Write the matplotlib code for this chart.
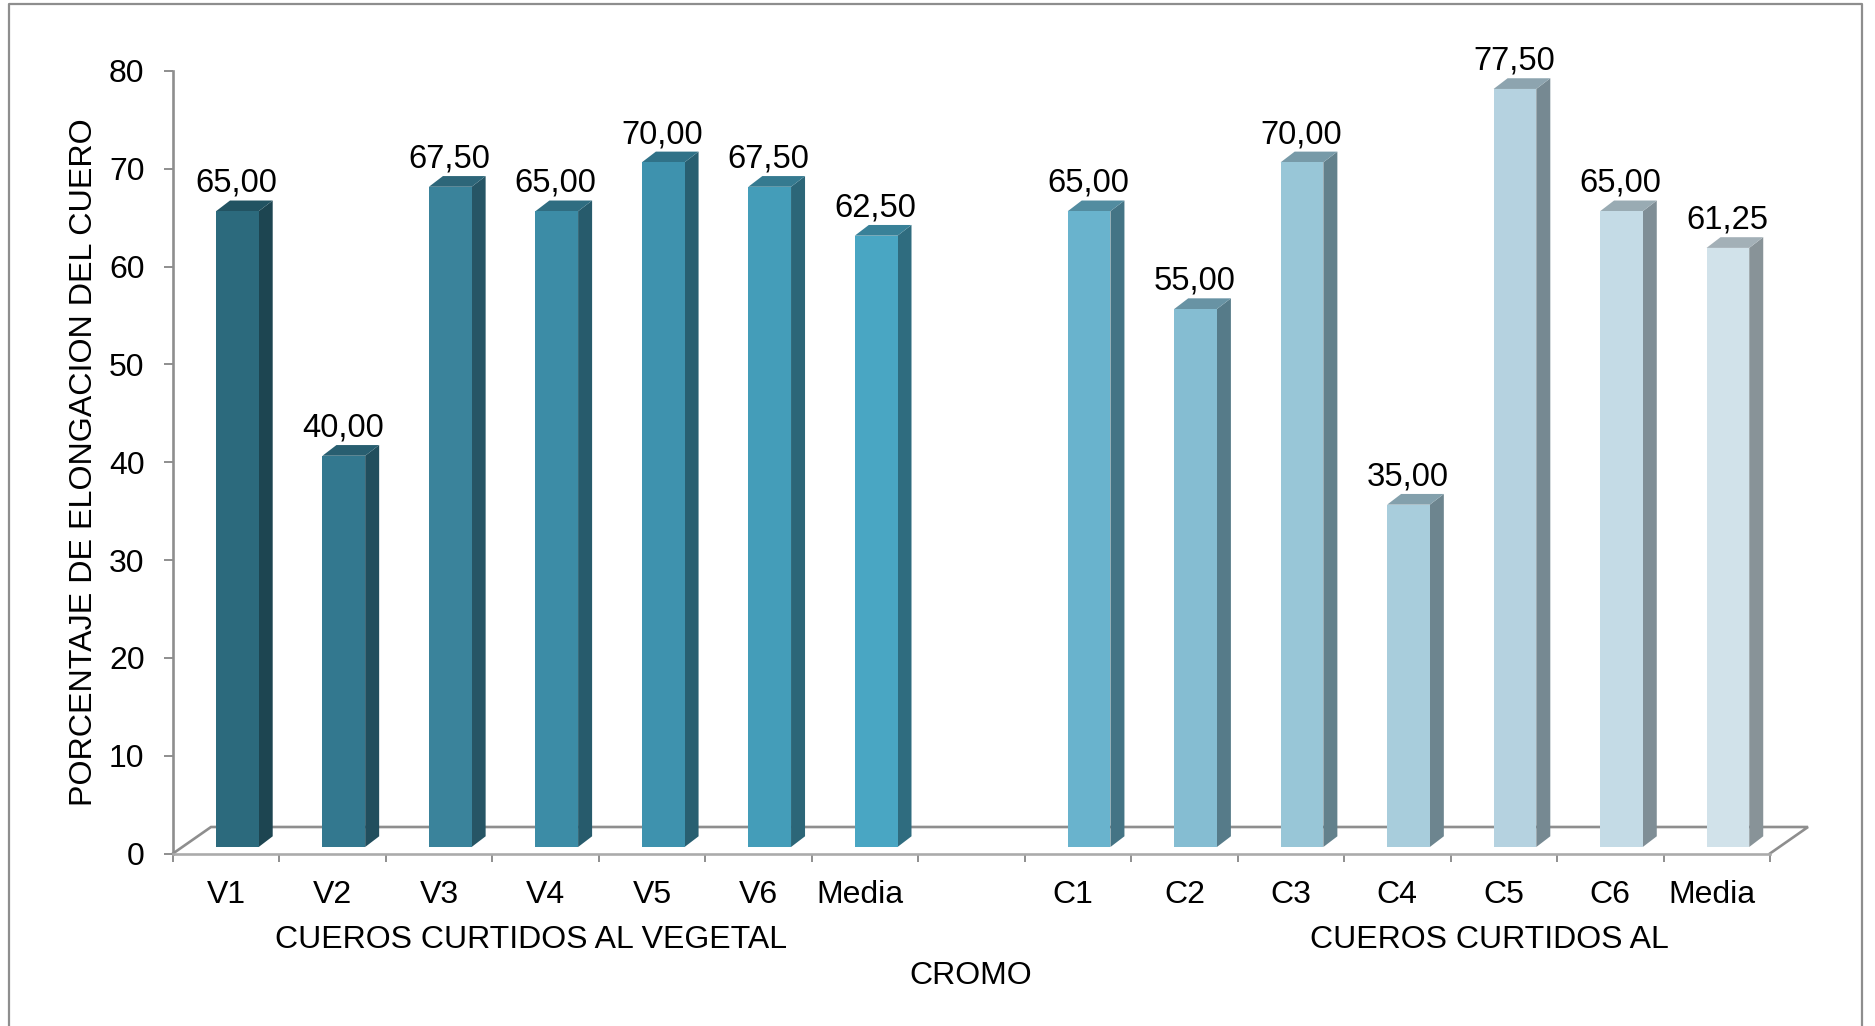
"""Elongation percentage of vegetable- and chrome-tanned leather as a pseudo-3D bar chart."""

from __future__ import annotations

import matplotlib

matplotlib.use("Agg")

import matplotlib.pyplot as plt
from matplotlib.lines import Line2D
from matplotlib.patches import Polygon

CATEGORIES = ["V1", "V2", "V3", "V4", "V5", "V6", "Media", "", "C1", "C2", "C3", "C4", "C5", "C6", "Media"]
ELONGATION = [65.0, 40.0, 67.5, 65.0, 70.0, 67.5, 62.5, None, 65.0, 55.0, 70.0, 35.0, 77.5, 65.0, 61.25]
Y_TICKS = [0, 10, 20, 30, 40, 50, 60, 70, 80]
BAR_COLORS = [
    "#2C6A7D", "#33788F", "#3A839B", "#3C8CA6", "#3E92AE", "#449DB9", "#49A6C3", None,
    "#69B3CD", "#85BDD2", "#98C6D7", "#A8CDDC", "#B5D2E0", "#C4DBE6", "#D1E2EA",
]

WIDTH, HEIGHT = 1875, 1026
AXIS_GRAY = "#8E8E8E"
FONT_SIZE = 23

# Plot box in pixels; everything else is placed in data units derived from it.
LEFT, RIGHT, TOP, BOTTOM = 173, 1770, 71, 853.5
UNIT_X = (RIGHT - LEFT) / len(CATEGORIES)
UNIT_Y = (BOTTOM - TOP) / 80
BAR_START = 43 / UNIT_X
BAR_WIDTH = 42.7 / UNIT_X
DEPTH_X = 14 / UNIT_X
DEPTH_Y = 10.7 / UNIT_Y
LIFT = 6.5 / UNIT_Y
FLOOR_X = 38 / UNIT_X
FLOOR_Y = 26.5 / UNIT_Y

# Wide labels and the first label after the gap sit a little left of their slot.
LABEL_SHIFT = {6: -5, 8: -5, 14: -5}


def shade(color: str, factor: float) -> tuple[float, float, float]:
    rgb = matplotlib.colors.to_rgb(color)
    return tuple(channel * factor for channel in rgb)


def draw_bar(ax, index: int, value: float, color: str) -> None:
    x0 = index + BAR_START
    x1 = x0 + BAR_WIDTH
    y0 = LIFT
    y1 = value + LIFT
    faces = (
        ([(x1, y0), (x1 + DEPTH_X, y0 + DEPTH_Y), (x1 + DEPTH_X, y1 + DEPTH_Y), (x1, y1)], shade(color, 0.65)),
        ([(x0, y1), (x1, y1), (x1 + DEPTH_X, y1 + DEPTH_Y), (x0 + DEPTH_X, y1 + DEPTH_Y)], shade(color, 0.78)),
        ([(x0, y0), (x1, y0), (x1, y1), (x0, y1)], color),
    )
    for points, face in faces:
        ax.add_patch(Polygon(points, closed=True, facecolor=face, edgecolor="none", zorder=3, clip_on=False))
    ax.annotate(
        f"{value:.2f}".replace(".", ","),
        xy=((x0 + x1) / 2, y1),
        xytext=(-0.7, 13.9),
        textcoords="offset points",
        ha="center",
        va="baseline",
        fontsize=23.6,
        color="black",
        zorder=5,
    )


def draw_floor(ax) -> None:
    n = len(CATEGORIES)
    xs = [0, FLOOR_X, n + FLOOR_X, n]
    ys = [0, FLOOR_Y, FLOOR_Y, 0]
    ax.plot(xs, ys, color=AXIS_GRAY, lw=1.9, zorder=1, clip_on=False, solid_joinstyle="miter")


def draw_frame(fig) -> None:
    xs = [9 / WIDTH, 9 / WIDTH, 1862 / WIDTH, 1862 / WIDTH]
    ys = [0, 1 - 4 / HEIGHT, 1 - 4 / HEIGHT, 0]
    fig.add_artist(Line2D(xs, ys, color=AXIS_GRAY, lw=1.6, transform=fig.transFigure))


def main() -> None:
    plt.rcParams["font.family"] = ["Liberation Sans", "DejaVu Sans"]

    fig = plt.figure(figsize=(WIDTH / 100, HEIGHT / 100), dpi=100, facecolor="white")
    ax = fig.add_axes([
        LEFT / WIDTH,
        1 - BOTTOM / HEIGHT,
        (RIGHT - LEFT) / WIDTH,
        (BOTTOM - TOP) / HEIGHT,
    ])
    ax.set_xlim(0, len(CATEGORIES))
    ax.set_ylim(0, 80)
    ax.patch.set_visible(False)

    for side in ("top", "right"):
        ax.spines[side].set_visible(False)
    ax.spines["left"].set_color(AXIS_GRAY)
    ax.spines["left"].set_linewidth(1.9)
    ax.spines["bottom"].set_color("#ABABAB")
    ax.spines["bottom"].set_linewidth(1.9)

    ax.set_yticks(Y_TICKS)
    ax.tick_params(axis="y", length=6.5, width=1.4, color=AXIS_GRAY, pad=14, labelsize=FONT_SIZE)
    ax.set_xticks(range(len(CATEGORIES) + 1))
    ax.set_xticklabels([])
    ax.tick_params(axis="x", length=6, width=1.4, color=AXIS_GRAY)

    draw_floor(ax)
    draw_frame(fig)

    for index, (value, color) in enumerate(zip(ELONGATION, BAR_COLORS)):
        if value is not None:
            draw_bar(ax, index, value, color)

    label_y = 1 - 895 / HEIGHT
    for index, name in enumerate(CATEGORIES):
        x = (LEFT + (index + 0.5) * UNIT_X + LABEL_SHIFT.get(index, 0)) / WIDTH
        fig.text(x, label_y, name, ha="center", va="center", fontsize=FONT_SIZE)

    fig.text(531 / WIDTH, 1 - 940 / HEIGHT, "CUEROS CURTIDOS AL VEGETAL", ha="center", va="center", fontsize=FONT_SIZE)
    fig.text(1489 / WIDTH, 1 - 940 / HEIGHT, "CUEROS CURTIDOS AL", ha="center", va="center", fontsize=FONT_SIZE)
    fig.text(971 / WIDTH, 1 - 975.5 / HEIGHT, "CROMO", ha="center", va="center", fontsize=FONT_SIZE)
    fig.text(
        84 / WIDTH,
        1 - 462 / HEIGHT,
        "PORCENTAJE DE ELONGACION DEL CUERO",
        rotation=90,
        ha="center",
        va="center",
        fontsize=23.2,
    )

    fig.savefig("out.png", dpi=100, facecolor="white")
    plt.close(fig)


if __name__ == "__main__":
    main()
